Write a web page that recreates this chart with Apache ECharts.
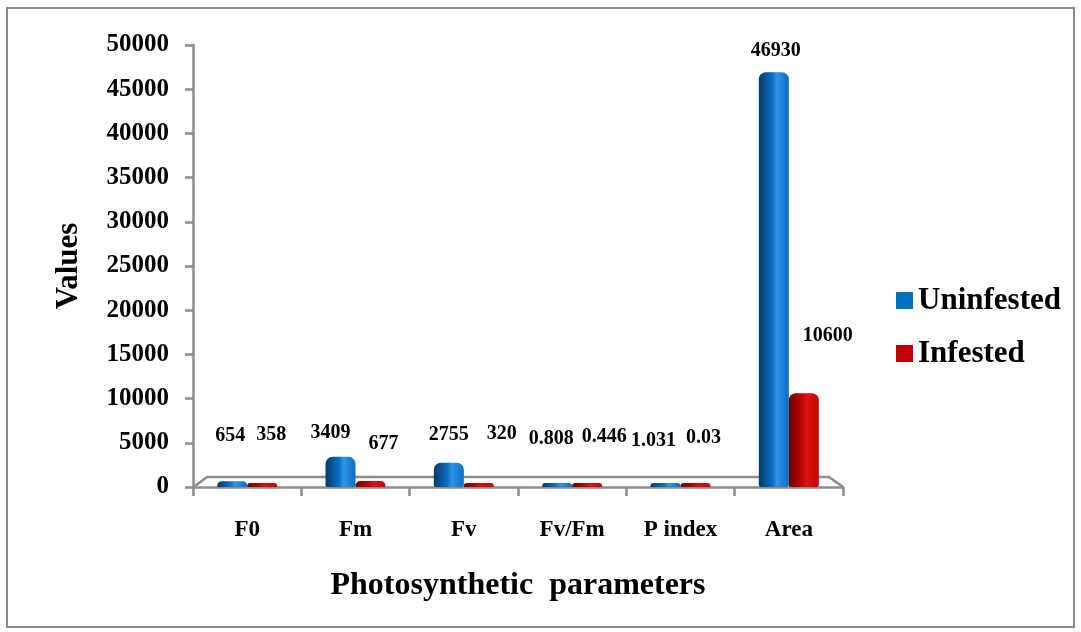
<!DOCTYPE html>
<html><head><meta charset="utf-8">
<script src="https://cdn.jsdelivr.net/npm/echarts@6/dist/echarts.min.js"></script>
<style>html,body{margin:0;padding:0;background:#fff}#c{width:1081px;height:632px}</style>
</head><body><div id="c"></div>
<script>
const categories = ['F0','Fm','Fv','Fv/Fm','P index','Area'];
const uninfested = [654, 3409, 2755, 0.808, 1.031, 46930];
const infested = [358, 677, 320, 0.446, 0.03, 10600];
const yTicks = [0, 5000, 10000, 15000, 20000, 25000, 30000, 35000, 40000, 45000, 50000];
const seriesNames = ['Uninfested', 'Infested'];

const FONT = '"Liberation Serif","Times New Roman",serif';
function grad(dark, mid, light) {
  return new echarts.graphic.LinearGradient(0,0,1,0,[
    {offset:0,color:dark},{offset:0.45,color:mid},{offset:0.6,color:light},{offset:1,color:mid}
  ]);
}
const chart = echarts.init(document.getElementById('c'));
const labelBase = {show:true, position:'top', color:'#000', fontFamily:FONT, fontWeight:'bold', fontSize:20};
// label placement (styling only, mimics the original's 3D label positions)
const uDist = [35, 14, 18, 34, 32, 11];
const iDist = [38, 27, 39, 36, 35, 47];
const uDx = [-2, -10, 0, -6, -12, 2];
const iDx = [9, 13, 23, 17, 8, 24];
const uItems = uninfested.map((v,i)=>({value:v, label:{distance:uDist[i], offset:[uDx[i],0]}}));
const iItems = infested.map((v,i)=>({value:v, label:{distance:iDist[i], offset:[iDx[i],0]}}));
chart.setOption({
  animation:false,
  legend:{
    left:891, top:280, orient:'vertical', itemGap:22, itemWidth:17, itemHeight:17, icon:'rect',
    textStyle:{fontFamily:FONT, fontWeight:'bold', fontSize:31, color:'#000'},
    data:[{name:seriesNames[0], itemStyle:{color:'#0070C0'}},{name:seriesNames[1], itemStyle:{color:'#C00000'}}]
  },
  grid:{left:193, right:238, top:45, bottom:145},
  xAxis:{
    type:'category', data:categories,
    name:'Photosynthetic  parameters', nameLocation:'middle', nameGap:83,
    nameTextStyle:{fontFamily:FONT, fontWeight:'bold', fontSize:32, color:'#000'},
    axisLine:{lineStyle:{color:'#8c8c8c', width:2.5}},
    axisTick:{show:true, length:9, lineStyle:{color:'#8c8c8c', width:2.5}},
    axisLabel:{fontFamily:FONT, fontWeight:'bold', fontSize:23, color:'#000', margin:32}
  },
  yAxis:{
    type:'value', min:yTicks[0], max:yTicks[yTicks.length-1], interval:5000,
    name:'Values', nameLocation:'middle', nameGap:109, nameRotate:90,
    nameTextStyle:{fontFamily:FONT, fontWeight:'bold', fontSize:31, color:'#000'},
    axisLine:{show:true, lineStyle:{color:'#8c8c8c', width:2.5}},
    axisTick:{show:true, length:8, lineStyle:{color:'#8c8c8c', width:2.5}},
    splitLine:{show:false},
    axisLabel:{fontFamily:FONT, fontWeight:'bold', fontSize:25, color:'#000', margin:24,
      formatter:v=>String(v)}
  },
  series:[
    {name:seriesNames[0], type:'bar', data:uItems, barWidth:30, barGap:'0%', z:3, barMinHeight:4,
     itemStyle:{color:grad('#063a66','#0a6fc4','#2f93e6'), borderRadius:[7,7,2,2]},
     label:labelBase},
    {name:seriesNames[1], type:'bar', data:iItems, barWidth:30, z:3, barMinHeight:4,
     itemStyle:{color:grad('#6a0000','#c20404','#e01010'), borderRadius:[7,7,2,2]},
     label:labelBase}
  ]
});
// decorative 3D floor outline and chart border
const yb = chart.convertToPixel({yAxisIndex:0}, 0);
const xl = 193, xr = 1081 - 238;
chart.setOption({graphic:[
  {type:'rect', shape:{x:7,y:8,width:1067,height:619}, style:{fill:'none', stroke:'#8a8a8a', lineWidth:2}, z:0},
  {type:'polyline', shape:{points:[[xl+2,yb-1],[xl+14,yb-10],[xr-14,yb-10],[xr,yb]]},
   style:{fill:'none', stroke:'#8c8c8c', lineWidth:2.5}, z:1}
]});
</script></body></html>
